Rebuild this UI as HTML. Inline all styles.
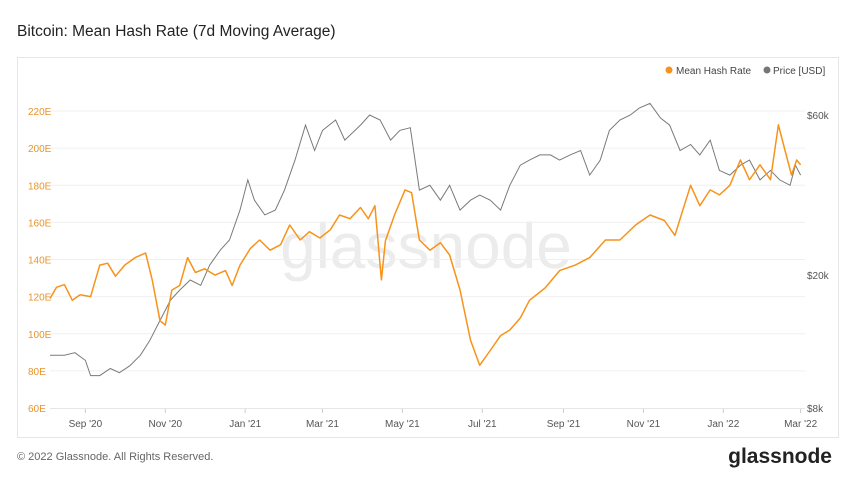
<!DOCTYPE html>
<html><head><meta charset="utf-8"><style>
body{margin:0;background:#fff;font-family:"Liberation Sans",sans-serif;}
svg text{font-family:"Liberation Sans",sans-serif;}
</style></head><body>
<svg width="850" height="478" viewBox="0 0 850 478">
<text x="17" y="36" font-size="15.5" fill="#222">Bitcoin: Mean Hash Rate (7d Moving Average)</text>
<rect x="17.5" y="57.5" width="821" height="380" fill="#fff" stroke="#e6e6e6"/>
<text x="426" y="268" font-size="64" fill="#ececec" text-anchor="middle">glassnode</text>
<g id="grid"></g><g id="axes"></g><g id="series"></g>
<g>
<circle cx="669" cy="70" r="3.5" fill="#f7931a"/>
<text x="676" y="74" font-size="10" fill="#444">Mean Hash Rate</text>
<circle cx="767" cy="70" r="3.5" fill="#777"/>
<text x="773" y="74" font-size="10" fill="#444">Price [USD]</text>
</g>
<text x="17" y="460" font-size="11" fill="#666">© 2022 Glassnode. All Rights Reserved.</text>
<text x="832" y="463" font-size="21" font-weight="bold" fill="#222" text-anchor="end">glassnode</text>
</svg>
<script>
const hashDays=[0,5,11,17,23,31,38,44,50,57,65,73,78,84,88,93,99,105,111,118,126,134,139,145,153,160,168,176,183,191,198,206,214,221,229,237,243,248,253,256,263,271,276,282,290,298,305,313,321,328,336,344,351,359,366,378,389,401,412,424,435,447,458,469,477,489,496,504,511,519,527,534,542,550,556,561,566,570,573];
const hashVals=[119,125,126.5,118,121,120,137,138,131,137,141,143.5,129,107,104.7,123.5,126,141,133,135,131.6,134,126,137,146,150.5,145,148,158.6,150.5,155,151.6,156,164,162,168,162,169,129,150,164,177.5,176,150.5,145,149,142.4,123.6,96.6,83,91,99,102,108.5,118,124.7,134,137,141,150.5,150.5,158.6,164,161,153,180,169,177.5,174.8,180,193.6,183,191,183,212.5,199,185.5,193.6,191];
const priceDays=[0,11,19,27,31,38,46,53,61,69,76,84,92,99,107,115,122,130,137,145,151,156,164,172,179,187,195,202,208,218,225,237,244,252,260,267,275,282,290,298,305,313,321,328,336,344,351,359,366,374,382,389,397,405,412,420,427,435,443,450,458,466,473,481,489,496,504,511,519,527,534,542,550,557,565,569,573];
const priceVals=[11500,11500,11700,11100,10000,10000,10500,10200,10700,11500,12700,14600,16800,18000,19300,18600,21400,23700,25400,31200,38400,33400,30200,31200,35800,44000,56000,47000,54000,58000,50500,56000,60000,58000,50500,54000,55000,35800,37000,33400,37000,31200,33400,34600,33400,31200,37000,42500,44000,45600,45600,44000,45600,47000,39700,44000,54000,58000,60000,63000,65000,58800,56000,47000,49000,45600,50500,41000,39700,42500,44000,38400,41000,38400,37000,42500,39700];
const hashTicks=[60,80,100,120,140,160,180,200,220];
const priceTicks=[8000,20000,60000];
const priceTickLabels=["$8k","$20k","$60k"];
const monthDays=[27,88,149,208,269,330,392,453,514,573];
const monthLabels=["Sep '20","Nov '20","Jan '21","Mar '21","May '21","Jul '21","Sep '21","Nov '21","Jan '22","Mar '22"];

const NS="http://www.w3.org/2000/svg";
const X0=50,PXD=1.31;
const xS=d=>X0+d*PXD;
const yH=v=>408-(v-60)*(297/160);
const yP=p=>408-Math.log(p/8000)*145.4;
function mk(tag,attrs,parent){const e=document.createElementNS(NS,tag);for(const k in attrs)e.setAttribute(k,attrs[k]);document.getElementById(parent).appendChild(e);return e;}
hashTicks.forEach(v=>{
 const y=yH(v);
 if(v>60){const l=mk('line',{x1:50,x2:805,y1:y,y2:y,stroke:'#f0f0f0'},'grid');
 
 }
 const t=mk('text',{x:28,y:y+4,'font-size':10,fill:'#e8932a'},'axes');t.textContent=v+'E';
 
 
});
mk('line',{x1:50,x2:805,y1:408.5,y2:408.5,stroke:'#e6e6e6'},'grid');
priceTicks.forEach((p,i)=>{
 const t=mk('text',{x:807,y:yP(p)+4,'font-size':10,fill:'#555'},'axes');t.textContent=priceTickLabels[i];
 
 
});
monthDays.forEach((d,i)=>{
 const x=xS(d);
 const tk=mk('line',{x1:x,x2:x,y1:409,y2:413,stroke:'#ccc'},'axes');
 
 
 const t=mk('text',{x:x,y:427,'font-size':10,fill:'#555','text-anchor':'middle'},'axes');t.textContent=monthLabels[i];
 
 
});
const pp=priceDays.map((d,i)=>(i?'L':'M')+xS(d).toFixed(1)+' '+yP(priceVals[i]).toFixed(1)).join('');
const pl=mk('path',{d:pp,fill:'none',stroke:'#7a7a7a','stroke-width':1},'series');


const hp=hashDays.map((d,i)=>(i?'L':'M')+xS(d).toFixed(1)+' '+yH(hashVals[i]).toFixed(1)).join('');
const hl=mk('path',{d:hp,fill:'none',stroke:'#f7931a','stroke-width':1.5,'stroke-linejoin':'round'},'series');


</script>
</body></html>
